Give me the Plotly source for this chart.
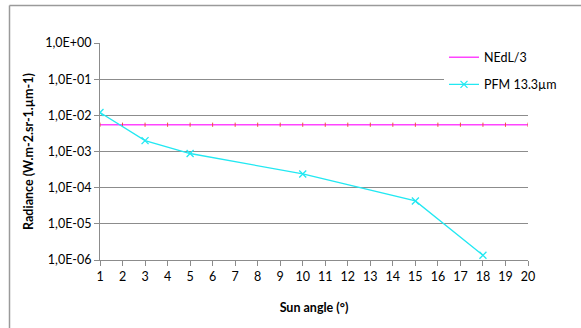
import plotly.graph_objects as go

# Sun angle samples (degrees) and measured radiance of the PFM 13.3 µm channel
angles_all = list(range(1, 21))
nedl_level = 5.5e-3
nedl_values = [nedl_level] * len(angles_all)

pfm_angles = [1, 3, 5, 10, 15, 18]
pfm_radiance = [1.2e-2, 2.0e-3, 8.8e-4, 2.4e-4, 4.3e-5, 1.35e-6]

y_tick_vals = [1e-6, 1e-5, 1e-4, 1e-3, 1e-2, 1e-1, 1e0]
y_tick_text = ["1,0E-06", "1,0E-05", "1,0E-04", "1,0E-03",
               "1,0E-02", "1,0E-01", "1,0E+00"]

FONT = "Lato"
GRID = "#8c8c8c"
FS = 12.5

fig = go.Figure()

fig.add_trace(go.Scatter(
    x=angles_all, y=nedl_values, mode="lines", name="NEdL/3",
    line=dict(color="#ff44ff", width=1.5),
    legendgroup="a",
))
# faint tick marks on the threshold line at each integer angle
fig.add_trace(go.Scatter(
    x=angles_all, y=nedl_values, mode="markers", showlegend=False,
    marker=dict(symbol="line-ns-open", size=3,
                line=dict(color="#e860e8", width=1)),
    hoverinfo="skip",
))
fig.add_trace(go.Scatter(
    x=pfm_angles, y=pfm_radiance, mode="lines+markers", name="PFM 13.3µm",
    line=dict(color="#22e8f2", width=1.3),
    marker=dict(symbol="x-thin-open", size=7,
                line=dict(color="#22e8f2", width=1.3)),
    legendgroup="b",
))

px_x = lambda p: (p - 100) / 428      # pixel -> paper x
px_y = lambda p: 1 - (p - 42.5) / 217.5  # pixel -> paper y

fig.update_layout(
    width=581, height=328,
    margin=dict(l=100, r=53, t=42.5, b=67.5),
    paper_bgcolor="white", plot_bgcolor="white",
    font=dict(family=FONT, size=FS, color="#000000"),
    showlegend=True,
    legend=dict(
        x=px_x(444), xanchor="left",
        y=px_y(42), yanchor="top",
        bgcolor="white", borderwidth=0,
        font=dict(family=FONT, size=FS),
        traceorder="grouped", tracegroupgap=8,
        itemwidth=30,
    ),
    shapes=[
        dict(type="line", xref="paper", yref="paper",
             x0=px_x(9.5), x1=px_x(9.5), y0=px_y(340), y1=px_y(5),
             line=dict(color="#9a9a9a", width=1.5)),
        dict(type="line", xref="paper", yref="paper",
             x0=px_x(9.5), x1=px_x(600), y0=px_y(5), y1=px_y(5),
             line=dict(color="#9a9a9a", width=1.5)),
    ],
)

fig.update_xaxes(
    range=[1, 20], tickmode="array", tickvals=angles_all,
    ticks="outside", ticklen=5, tickcolor=GRID,
    showline=True, linecolor=GRID, linewidth=1,
    showgrid=False, zeroline=False,
    tickfont=dict(family=FONT, size=FS),
    title=dict(text="<b>Sun angle (°)</b>", font=dict(family=FONT, size=FS),
               standoff=20),
)
fig.update_yaxes(
    type="log", range=[-6, 0],
    tickmode="array", tickvals=y_tick_vals, ticktext=y_tick_text,
    ticks="outside", ticklen=5, tickcolor=GRID,
    showline=True, linecolor=GRID, linewidth=1,
    showgrid=True, gridcolor=GRID, gridwidth=1,
    zeroline=False,
    tickfont=dict(family=FONT, size=FS),
    title=dict(text="<b>Radiance (W.m-2.sr-1.µm-1)</b>",
               font=dict(family=FONT, size=FS), standoff=8),
)

fig.write_html("out.html")
